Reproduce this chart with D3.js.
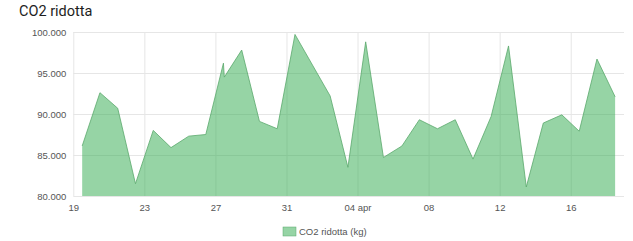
<!DOCTYPE html>
<html>
<head>
<meta charset="utf-8">
<script src="https://cdn.jsdelivr.net/npm/d3@7"></script>
<style>
  body { margin: 0; background: #fff; }
  #chart text { font-family: "Liberation Sans", Arial, Helvetica, sans-serif; }
</style>
</head>
<body>
<div id="chart"></div>
<script>
// -------- data ---------- //
var dates = [
  "2022-03-19T12:00", "2022-03-20T12:00", "2022-03-21T12:00", "2022-03-22T12:00",
  "2022-03-23T12:00", "2022-03-24T12:00", "2022-03-25T12:00", "2022-03-26T11:00",
  "2022-03-27T10:50", "2022-03-27T12:00", "2022-03-28T11:30", "2022-03-29T11:30",
  "2022-03-30T11:30", "2022-03-31T11:30", "2022-04-02T11:00", "2022-04-03T11:00",
  "2022-04-04T11:00", "2022-04-05T11:00", "2022-04-06T12:00", "2022-04-07T11:30",
  "2022-04-08T12:00", "2022-04-09T12:00", "2022-04-10T12:00", "2022-04-11T12:30",
  "2022-04-12T12:00", "2022-04-13T12:00", "2022-04-14T11:00", "2022-04-15T12:00",
  "2022-04-16T11:30", "2022-04-17T11:30", "2022-04-18T12:00"
];
var co2 = [
  86100, 92600, 90700, 81500, 88000, 85900, 87300, 87500,
  96200, 94500, 97800, 89100, 88200, 99700, 92200, 83500,
  98800, 84700, 86100, 89300, 88200, 89300, 84500, 89700,
  98300, 81100, 88900, 89900, 87900, 96700, 92100
];
var xTickDates = ["2022-03-19", "2022-03-23", "2022-03-27", "2022-03-31",
                  "2022-04-04", "2022-04-08", "2022-04-12", "2022-04-16"];
var xTickLabels = ["19", "23", "27", "31", "04 apr", "08", "12", "16"];
var yTicks = [80000, 85000, 90000, 95000, 100000];
var xDomain = ["2022-03-19", "2022-04-19"];

var title = "CO2 ridotta";
var seriesName = "CO2 ridotta (kg)";

// -------- chart ---------- //
var W = 633, H = 241;
var margin = { top: 32, right: 9, bottom: 45, left: 73.3 };

var parse = d3.utcParse("%Y-%m-%dT%H:%M");
var parseDay = d3.utcParse("%Y-%m-%d");
var data = dates.map(function(d, i) {
  return { date: parse(d), value: co2[i] };
});

// italian number format: 100.000
var it = d3.formatLocale({ decimal: ",", thousands: ".", grouping: [3], currency: ["", "€"] });
var fmt = it.format(",.3~f");

var svg = d3.select("#chart").append("svg")
  .attr("width", W)
  .attr("height", H);

var x = d3.scaleUtc()
  .domain(xDomain.map(parseDay))
  .range([margin.left, W - margin.right]);

var y = d3.scaleLinear()
  .domain([80000, 100000])
  .range([H - margin.bottom, margin.top]);

// title
svg.append("text")
  .attr("x", 19)
  .attr("y", 16)
  .style("font-size", "14.5px")
  .style("font-weight", "400")
  .style("font-family", "Roboto, Arial, sans-serif")
  .attr("fill", "#1e1e1e")
  .text(title);

// grid lines
svg.append("g")
  .attr("transform", "translate(0," + (H - margin.bottom) + ")")
  .call(d3.axisBottom(x)
    .tickValues(xTickDates.map(parseDay))
    .tickSize(-(H - margin.bottom - margin.top))
    .tickFormat(""))
  .call(function(g) { g.select(".domain").remove(); })
  .call(function(g) { g.selectAll("line").attr("stroke", "#e6e6e6"); });

svg.append("g")
  .attr("transform", "translate(" + margin.left + ",0)")
  .call(d3.axisLeft(y)
    .tickValues(yTicks)
    .tickSize(-(W - margin.left - margin.right))
    .tickFormat(""))
  .call(function(g) { g.select(".domain").remove(); })
  .call(function(g) { g.selectAll("line").attr("stroke", "#e6e6e6"); });

// area
var area = d3.area()
  .x(function(d) { return x(d.date); })
  .y0(y(80000))
  .y1(function(d) { return y(d.value); });

var line = d3.line()
  .x(function(d) { return x(d.date); })
  .y(function(d) { return y(d.value); });

svg.append("path")
  .datum(data)
  .attr("d", area)
  .attr("fill", "rgb(46,170,76)")
  .attr("fill-opacity", 0.5);

svg.append("path")
  .datum(data)
  .attr("d", line)
  .attr("fill", "none")
  .attr("stroke", "#5aa86c")
  .attr("stroke-width", 0.8);

// axis labels
svg.append("g")
  .attr("transform", "translate(0," + (H - margin.bottom) + ")")
  .call(d3.axisBottom(x)
    .tickValues(xTickDates.map(parseDay))
    .tickSize(0)
    .tickPadding(8)
    .tickFormat(function(d, i) { return xTickLabels[i]; }))
  .call(function(g) { g.select(".domain").remove(); })
  .call(function(g) {
    g.selectAll("text").attr("fill", "#555").style("font-size", "9.5px");
  });

svg.append("g")
  .attr("transform", "translate(" + margin.left + ",0)")
  .call(d3.axisLeft(y)
    .tickValues(yTicks)
    .tickSize(0)
    .tickPadding(7)
    .tickFormat(fmt))
  .call(function(g) { g.select(".domain").remove(); })
  .call(function(g) {
    g.selectAll("text").attr("fill", "#555").style("font-size", "9.5px");
  });

// legend
var legend = svg.append("g").attr("transform", "translate(283,227)");
legend.append("rect")
  .attr("width", 13)
  .attr("height", 9)
  .attr("fill", "rgb(46,170,76)")
  .attr("fill-opacity", 0.5)
  .attr("stroke", "#5aa86c")
  .attr("stroke-width", 0.5);
legend.append("text")
  .attr("x", 16)
  .attr("y", 8)
  .attr("fill", "#555")
  .style("font-size", "9.5px")
  .text(seriesName);
</script>
</body>
</html>
